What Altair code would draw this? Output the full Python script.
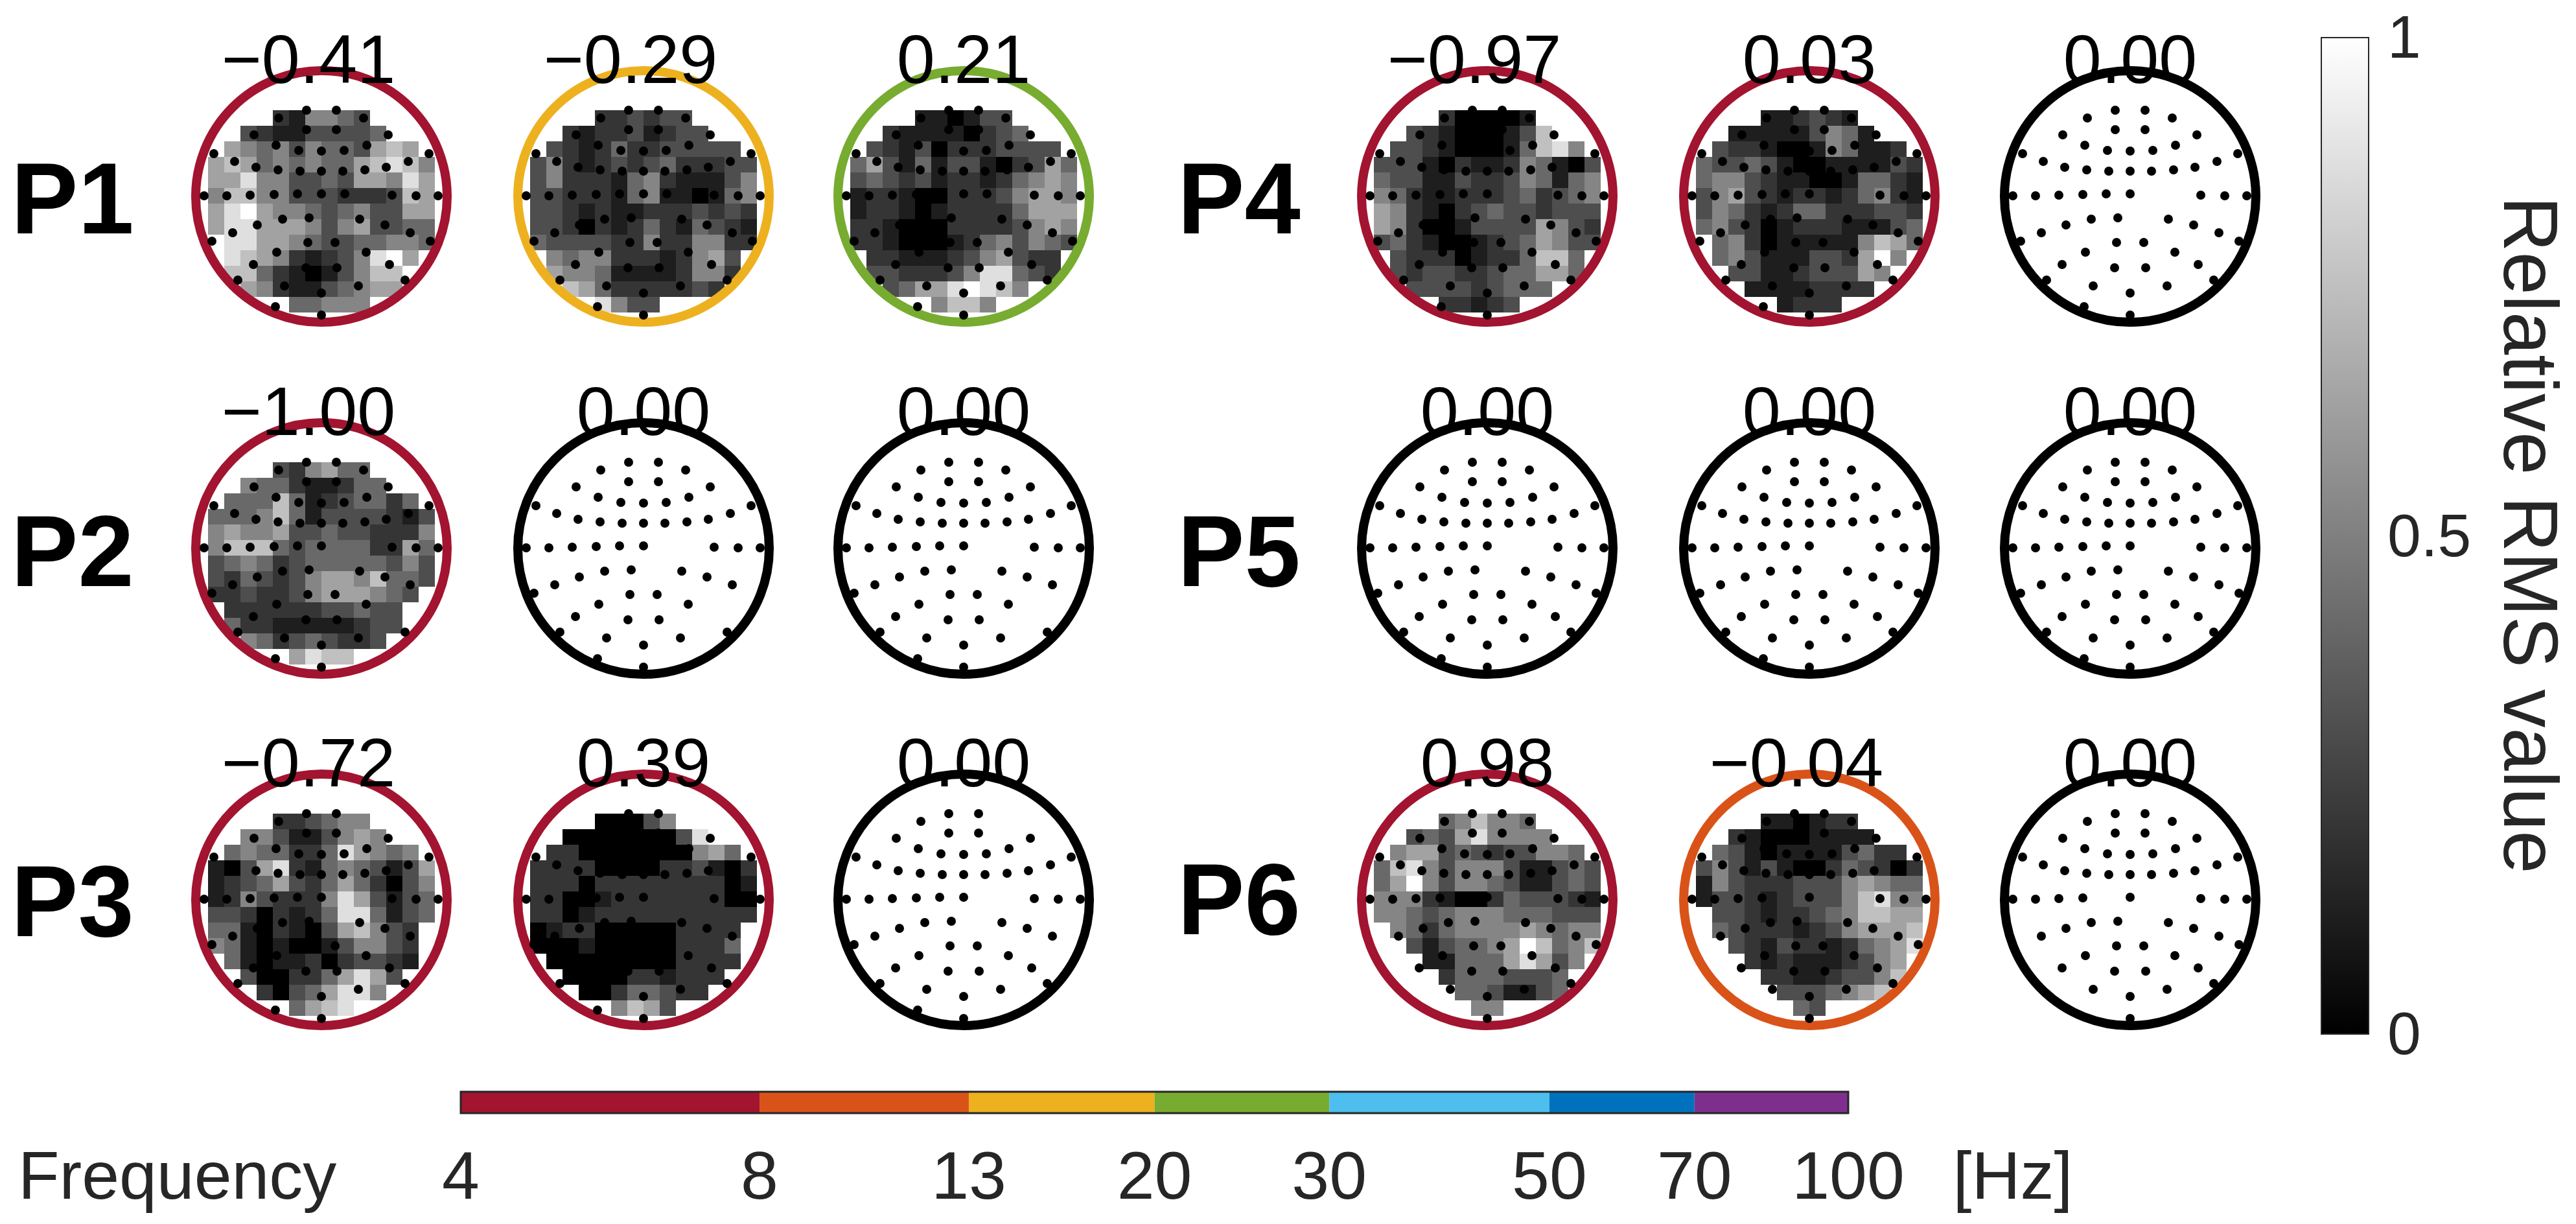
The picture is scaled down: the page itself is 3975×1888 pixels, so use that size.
import altair as alt
import pandas as pd

# head centres on the canvas
COL_X = [496, 993, 1487, 2295, 2792, 3287]
ROW_Y = [303, 846, 1388]

# electrode layout, offsets from the head centre
ELEC_DX = [-23, 23, -66, 65, -23, 23, -104, 103, -70, 70, -35, 0, 35, -166, 166,
           -134, 134, -101, 100, -67, 67, -33, 0, 33,
           -181, -146, -110, -73, -37, 0, 109, 146, 180,
           -60, -19, 59, 98, -99, -137, 137, -169, 168,
           -21, 21, -69, 69, -105, 105, -24, 24, -129, 129, -57, 57, 0, -71, 0]
ELEC_DY = [-133, -133, -121, -121, -103, -103, -95, -95, -79, -79, -71, -70, -71, -66, -66,
           -54, -54, -45, -45, -41, -41, -39, -39, -39,
           -1, -1, -2, -3, -4, -4, -2, -1, -1,
           35, 33, 35, 44, 44, 56, 56, 69, 69,
           71, 71, 86, 86, 105, 105, 110, 110, 129, 129, 138, 138, 149, 170, 183]

# channels that differ per patient
ELEC_EXTRA = {"P1": [(36, -4)]}
ELEC_DROP = {
    "P2": [(168, 69), (105, 105)],
    "P3": [(65, -121), (168, 69)],
    "P6": [(-37, -4), (-169, 69), (-129, 129), (-71, 170)],
}

# frequency bands
BAND_EDGES = [4, 8, 13, 20, 30, 50, 70, 100]
BAND_NAMES = ["theta", "alpha", "beta1", "beta2", "gamma1", "gamma2", "gamma3"]
BAND_COLORS = ["#A2142F", "#D95319", "#EDB120", "#77AC30", "#4DBEEE", "#0072BD", "#7E2F8E"]
FREQ_TICKS = [4, 8, 13, 20, 30, 50, 70, 100]

# topographies, one character per cell, 0 black .. 9 white, "." outside the map
P1_A = ["....215543....", "..321133334...", ".654535443676.", "67645454467875",
        "66855334366586", "57755333222376", "68965543453366", "68866653563344",
        ".8866543344554", ".876521235896.", ".77421013577..", "..6521134566..",
        ".....44555...."]
P1_B = ["....223233....", "..212231233...", ".321242233333.", "35212323422233",
        "35222145211135", "33222145110145", "33212112223232", "33202124214321",
        "43333225225522", ".545522212563.", ".655411112552.", "..7642222232..",
        "....8533......"]
P1_C = ["....110133....", "..211110234...", ".321302223333.", "46314133102364",
        "34323122124565", "12210022235665", "12210122224666", "22100022223565",
        "22100012453543", ".221112356322.", ".332223588432.", "..346689875...",
        ".....5775....."]
P2_A = ["....325644....", "..544211244...", ".444741234424.", "44457413333213",
        "56556334332225", "57774344442264", "34542344444353", "32432356657443",
        "2232235666543.", ".22222233433..", ".42211111233..", "..542343223...",
        ".....6877....."]
P3_A = ["....223455....", "..553113565...", ".454422486545.", "10368214543136",
        "12346324642035", "12532225863134", "33202124884134", "4410210367532.",
        "5410100135532.", ".410112023321.", "..3002246863..", "...20346885...",
        ".....4678....."]
P3_B = ["....00035.....", "..000000038...", ".220000000564.", "22220000223102",
        "22202222222201", "22001222222200", "22012222222222", "0122000002222.",
        "0001000002224.", ".000000002222.", "..0000221222..", "...00244322...",
        ".....5763....."]
P4_A = ["....200001....", "..321000137...", ".332100014785.", "33310211254103",
        "43311322354145", "54211222342345", "65210234332333", "65200133336532",
        "34210012346533", ".322201224774.", ".323322344664.", "..333323444...",
        "....22123....."]
P4_B = ["....112321....", "..111113541...", ".322100154112.", "43343100111132",
        "45532110014421", "35632122124521", "35421244222332", "45320122211134",
        ".4520111115764", ".453111332695.", "..3311233365..", "...11112222...",
        ".....1222....."]
P6_A = ["....457554....", "..343685555...", ".566343233554.", "47853555311343",
        "46953554311343", "55521002433321", "55434555444333", ".5424555565455",
        "..313445697457", "...1144468635.", "....24443334..", ".....4431134..",
        "......55......"]
P6_B = ["....110122....", "..210001111...", ".431011113422.", "35313100243202",
        "15322233356544", "13321233357855", ".3321223457766", ".4322212356667",
        "..321322124568", "...2121112356.", "....221123357.", ".....3334567..",
        "......43......"]

# patient, column, row, printed correlation, band, topography
HEADS = [
    ("P1", 0, 0, "\u22120.41", "theta", P1_A),
    ("P1", 1, 0, "\u22120.29", "beta1", P1_B),
    ("P1", 2, 0, "0.21", "beta2", P1_C),
    ("P2", 0, 1, "\u22121.00", "theta", P2_A),
    ("P2", 1, 1, "0.00", "none", None),
    ("P2", 2, 1, "0.00", "none", None),
    ("P3", 0, 2, "\u22120.72", "theta", P3_A),
    ("P3", 1, 2, "0.39", "theta", P3_B),
    ("P3", 2, 2, "0.00", "none", None),
    ("P4", 3, 0, "\u22120.97", "theta", P4_A),
    ("P4", 4, 0, "0.03", "theta", P4_B),
    ("P4", 5, 0, "0.00", "none", None),
    ("P5", 3, 1, "0.00", "none", None),
    ("P5", 4, 1, "0.00", "none", None),
    ("P5", 5, 1, "0.00", "none", None),
    ("P6", 3, 2, "0.98", "theta", P6_A),
    ("P6", 4, 2, "\u22120.04", "alpha", P6_B),
    ("P6", 5, 2, "0.00", "none", None),
]

PATIENTS = ["P1", "P2", "P3", "P4", "P5", "P6"]
PATIENT_X = [17, 17, 17, 1817, 1817, 1817]
PATIENT_Y = [360, 904, 1444, 360, 904, 1441]

CELL_W = 25
CELL_H = 24
MAP_LEFT = -175
MAP_TOP = -133

cells, dots, rings = [], [], []
for patient, col, row, label, band, grid in HEADS:
    cx, cy = COL_X[col], ROW_Y[row]
    rings.append({
        "x": cx, "y": cy, "band": band,
        "lx": cx - 20 if label.startswith("\u2212") else cx,
        "ly": cy - 175, "label": label,
    })
    drop = ELEC_DROP.get(patient, [])
    elec = [p for p in zip(ELEC_DX, ELEC_DY) if p not in drop] + ELEC_EXTRA.get(patient, [])
    for dx, dy in elec:
        dots.append({"x": cx + dx, "y": cy + dy})
    if grid is None:
        continue
    for r, line in enumerate(grid):
        for c, ch in enumerate(line):
            if ch == ".":
                continue
            x0 = cx + MAP_LEFT + c * CELL_W
            y0 = cy + MAP_TOP + r * CELL_H
            cells.append({"x": x0, "x2": x0 + CELL_W, "y": y0, "y2": y0 + CELL_H, "v": int(ch) / 9})

cells = pd.DataFrame(cells)
dots = pd.DataFrame(dots)
rings = pd.DataFrame(rings)
patients = pd.DataFrame({"name": PATIENTS, "x": PATIENT_X, "y": PATIENT_Y})
bands = pd.DataFrame({"lo": BAND_EDGES[:-1], "hi": BAND_EDGES[1:], "band": BAND_NAMES})
ticks = pd.DataFrame({"f": FREQ_TICKS, "label": [str(t) for t in FREQ_TICKS]})

# canvas scales: one data unit is one pixel of the picture
sx = alt.Scale(domain=[8, 3967])
sy = alt.Scale(domain=[1880, 8])
sf = alt.Scale(type="log", domain=[4, 100], range=[703, 2844])
sv = alt.Scale(domain=[0, 1], range=[1587, 50])
sband = alt.Scale(domain=BAND_NAMES + ["none"], range=BAND_COLORS + ["#000000"])


def X(field):
    return alt.X(field, type="quantitative", scale=sx, axis=None)


def Y(field):
    return alt.Y(field, type="quantitative", scale=sy, axis=None)


maps = alt.Chart(cells).mark_rect().encode(
    x=X("x"), x2="x2", y=Y("y"), y2="y2",
    color=alt.Color("v:Q", scale=alt.Scale(domain=[0, 1], range=["#000000", "#ffffff"]), legend=None),
)
ring_marks = alt.Chart(rings).mark_point(filled=False, strokeWidth=14, opacity=1).encode(
    x=X("x"), y=Y("y"),
    color=alt.Color("band:N", scale=sband, legend=None),
    size=alt.value(150544),
)
dot_marks = alt.Chart(dots).mark_circle(color="#000000", opacity=1, size=196).encode(x=X("x"), y=Y("y"))
value_text = alt.Chart(rings).mark_text(
    font="Liberation Sans", fontSize=106, color="#000000", align="center", baseline="alphabetic"
).encode(x=X("lx"), y=Y("ly"), text="label:N")
patient_text = alt.Chart(patients).mark_text(
    font="Liberation Sans", fontSize=155, fontWeight="bold", color="#000000", align="left", baseline="alphabetic"
).encode(x=X("x"), y=Y("y"), text="name:N")

# frequency bar on its log axis
bar_y = alt.Y("t:Q", scale=sy, axis=None)
band_marks = alt.Chart(bands.assign(t=1684, b=1717)).mark_rect().encode(
    x=alt.X("lo:Q", scale=sf, axis=None), x2="hi:Q", y=bar_y, y2="b:Q",
    color=alt.Color("band:N", scale=sband, legend=None),
)
bar_frame = alt.Chart(pd.DataFrame({"lo": [4], "hi": [100], "t": [1684], "b": [1717]})).mark_rect(
    fill="transparent", stroke="#262626", strokeWidth=3
).encode(x=alt.X("lo:Q", scale=sf, axis=None), x2="hi:Q", y=bar_y, y2="b:Q")
tick_text = alt.Chart(ticks.assign(y=1849)).mark_text(
    font="Liberation Sans", fontSize=104, color="#262626", align="center", baseline="alphabetic"
).encode(x=alt.X("f:Q", scale=sf, axis=None), y=Y("y"), text="label:N")

# grey scale bar
gray_fill = alt.Gradient(
    gradient="linear",
    stops=[alt.GradientStop(color="#000000", offset=0), alt.GradientStop(color="#ffffff", offset=1)],
    x1=0, x2=0, y1=1, y2=0,
)
gray_bar = alt.Chart(pd.DataFrame({"x": [3582], "x2": [3655], "lo": [0], "hi": [1]})).mark_rect(
    fill=gray_fill, stroke="#262626", strokeWidth=2
).encode(x=X("x"), x2="x2", y=alt.Y("lo:Q", scale=sv, axis=None), y2="hi:Q")
gray_text = alt.Chart(pd.DataFrame({"v": [0, 0.5, 1], "label": ["0", "0.5", "1"], "x": [3684, 3684, 3684]})).mark_text(
    font="Liberation Sans", fontSize=93, color="#262626", align="left", baseline="middle", dy=3
).encode(x=X("x"), y=alt.Y("v:Q", scale=sv, axis=None), text="label:N")

# loose captions
captions = pd.DataFrame({"x": [28, 3106], "y": [1849, 1849], "label": ["Frequency", "[Hz]"], "a": ["left", "center"]})
freq_caption = alt.Chart(captions[captions.a == "left"]).mark_text(
    font="Liberation Sans", fontSize=104, color="#262626", align="left", baseline="alphabetic"
).encode(x=X("x"), y=Y("y"), text="label:N")
hz_caption = alt.Chart(captions[captions.a == "center"]).mark_text(
    font="Liberation Sans", fontSize=104, color="#262626", align="center", baseline="alphabetic"
).encode(x=X("x"), y=Y("y"), text="label:N")
rms_caption = alt.Chart(pd.DataFrame({"x": [3864], "y": [825], "label": ["Relative RMS value"]})).mark_text(
    font="Liberation Sans", fontSize=119, color="#262626", angle=90, align="center", baseline="alphabetic"
).encode(x=X("x"), y=Y("y"), text="label:N")

chart = (
    alt.layer(
        maps, ring_marks, dot_marks, value_text, patient_text,
        band_marks, bar_frame, tick_text, gray_bar, gray_text,
        freq_caption, hz_caption, rms_caption,
    )
    .resolve_scale(x="independent", y="independent", color="independent")
    .properties(width=3959, height=1872, padding=0, autosize=alt.AutoSizeParams(type="none"))
    .configure_view(strokeWidth=0)
)

chart.save("out.html", embed_options={"renderer": "svg", "actions": False})
